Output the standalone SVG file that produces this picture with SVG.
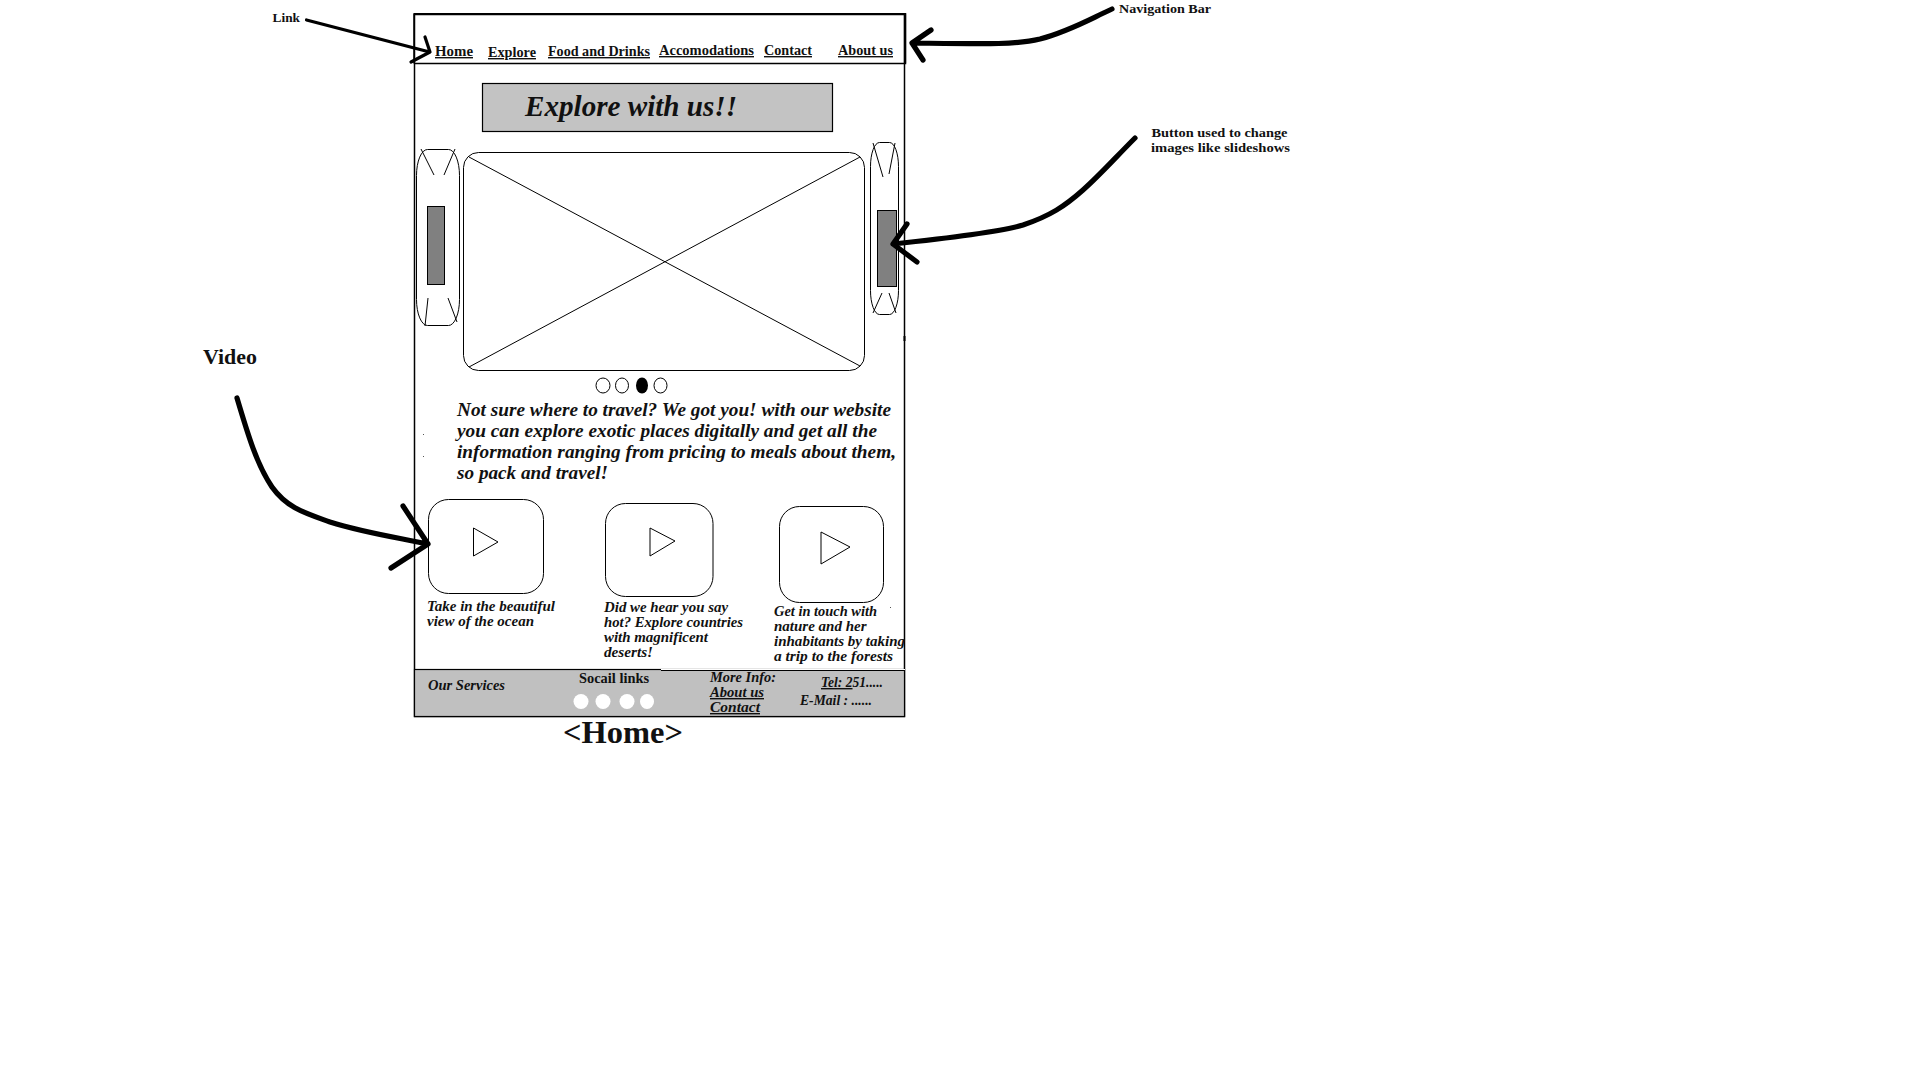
<svg xmlns="http://www.w3.org/2000/svg" width="1920" height="1080" viewBox="0 0 1920 1080">
<style>
text{font-family:"Liberation Serif","Times New Roman",serif;font-weight:bold;fill:#111}
.i{font-style:italic}
.u{text-decoration:underline}
.nav{font-size:14px}
.cap{font-size:14.5px;font-style:italic}
.para{font-size:19.5px;font-style:italic}
.ft{font-size:14px}
.note{font-size:13.5px}
.s{fill:#fff;stroke:#000;stroke-width:1}
.t{fill:none;stroke:#000;stroke-width:1}
.g{fill:#808080;stroke:#000;stroke-width:1}
.c{fill:none;stroke:#000;stroke-linecap:round;stroke-linejoin:round}
</style>
<rect width="1920" height="1080" fill="#fff"/>
<g id="page">
<rect x="414.5" y="14.5" width="490" height="702" fill="#fff" stroke="#000" stroke-width="1.5"/>
</g>
<g id="nav-bar">
<path d="M414 63.5H905.5V14H414V63.5" fill="none" stroke="#000" stroke-width="1.5"/>
<path d="M414 14H905V63" fill="none" stroke="#000" stroke-width="2.2"/>
<text class="nav u" x="435" y="56" textLength="38" lengthAdjust="spacingAndGlyphs">Home</text>
<text class="nav u" x="488" y="57" textLength="48" lengthAdjust="spacingAndGlyphs">Explore</text>
<text class="nav u" x="548" y="56" textLength="102" lengthAdjust="spacingAndGlyphs">Food and Drinks</text>
<text class="nav u" x="659" y="55" textLength="95" lengthAdjust="spacingAndGlyphs">Accomodations</text>
<text class="nav u" x="764" y="55" textLength="48" lengthAdjust="spacingAndGlyphs">Contact</text>
<text class="nav u" x="838" y="55" textLength="55" lengthAdjust="spacingAndGlyphs">About us</text>
</g>
<g id="banner">
<rect x="482.5" y="83.5" width="350" height="48" fill="#c3c3c3" stroke="#000" stroke-width="1.2"/>
<text class="i" x="525" y="116" font-size="30" textLength="212" lengthAdjust="spacingAndGlyphs">Explore with us!!</text>
</g>
<g id="carousel-left">
<rect class="s" x="416.5" y="149.5" width="43" height="176" rx="11" ry="26"/>
<path class="t" d="M421 149L434 175M455 149L444 175M428 298L425 326M448 298L457 322"/>
<rect class="g" x="427.5" y="206.5" width="17" height="78"/>
</g>
<g id="carousel-image">
<rect class="s" x="463.5" y="152.5" width="401" height="218" rx="15"/>
<path class="t" d="M469 157L860 366M860 157L469 367"/>
</g>
<g id="carousel-right">
<rect class="s" x="870.5" y="142.5" width="28" height="172" rx="9" ry="24"/>
<path class="t" d="M873 143L883 177M895 143L889 174M882 293L873 313M889 293L896 313"/>
<rect class="g" x="877.5" y="210.5" width="19" height="76"/>
</g>
<g id="slide-dots">
<ellipse class="s" cx="603" cy="385.5" rx="7" ry="7.5"/>
<ellipse class="s" cx="622" cy="385.5" rx="6.5" ry="7.5"/>
<ellipse cx="642" cy="385.5" rx="6" ry="8" fill="#000"/>
<ellipse class="s" cx="660.5" cy="385.5" rx="6.5" ry="7.5"/>
</g>
<g id="intro">
<text class="para" x="457" y="416" textLength="434" lengthAdjust="spacingAndGlyphs">Not sure where to travel? We got you! with our website</text>
<text class="para" x="457" y="437" textLength="420" lengthAdjust="spacingAndGlyphs">you can explore exotic places digitally and get all the</text>
<text class="para" x="457" y="458" textLength="439" lengthAdjust="spacingAndGlyphs">information ranging from pricing to meals about them,</text>
<text class="para" x="457" y="479" textLength="151" lengthAdjust="spacingAndGlyphs">so pack and travel!</text>
</g>
<g id="video-1">
<rect class="s" x="428.5" y="499.5" width="115" height="94" rx="20"/>
<path class="t" d="M473.5 528L498 542L473.5 556Z"/>
<text class="cap" x="427" y="610.5" textLength="128" lengthAdjust="spacingAndGlyphs">Take in the beautiful</text>
<text class="cap" x="427" y="625.5" textLength="107" lengthAdjust="spacingAndGlyphs">view of the ocean</text>
</g>
<g id="video-2">
<rect class="s" x="605.5" y="503.5" width="107.5" height="93" rx="20"/>
<path class="t" d="M650 528L675 541L650 556Z"/>
<text class="cap" x="604" y="612" textLength="124" lengthAdjust="spacingAndGlyphs">Did we hear you say</text>
<text class="cap" x="604" y="627" textLength="139" lengthAdjust="spacingAndGlyphs">hot? Explore countries</text>
<text class="cap" x="604" y="642" textLength="104" lengthAdjust="spacingAndGlyphs">with magnificent</text>
<text class="cap" x="604" y="657" textLength="49" lengthAdjust="spacingAndGlyphs">deserts!</text>
</g>
<g id="video-3">
<rect class="s" x="779.5" y="506.5" width="104" height="96" rx="20"/>
<path class="t" d="M821 532L850 547L821 564Z"/>
<text class="cap" x="774" y="616" textLength="103" lengthAdjust="spacingAndGlyphs">Get in touch with</text>
<text class="cap" x="774" y="631" textLength="92.5" lengthAdjust="spacingAndGlyphs">nature and her</text>
<text class="cap" x="774" y="646" textLength="131" lengthAdjust="spacingAndGlyphs">inhabitants by taking</text>
<text class="cap" x="774" y="661" textLength="119" lengthAdjust="spacingAndGlyphs">a trip to the forests</text>
</g>
<g id="footer">
<rect x="414.5" y="669.5" width="490" height="47" fill="#c0c0c0" stroke="#000" stroke-width="1.2"/>
<path d="M661 669.5H905" stroke="#fff" stroke-width="1"/>
<path d="M661 670.5H905" stroke="#000" stroke-width="1"/>
<text class="ft i" x="428" y="690" textLength="77" lengthAdjust="spacingAndGlyphs">Our Services</text>
<text class="ft" x="579" y="683" textLength="70" lengthAdjust="spacingAndGlyphs">Socail links</text>
<ellipse cx="581" cy="701.5" rx="7.5" ry="7.5" fill="#fff"/>
<ellipse cx="603" cy="701.5" rx="7.5" ry="7.5" fill="#fff"/>
<ellipse cx="627" cy="701.5" rx="7.5" ry="7.5" fill="#fff"/>
<ellipse cx="647" cy="701.5" rx="7" ry="7.5" fill="#fff"/>
<text class="ft i" x="710" y="682" textLength="66" lengthAdjust="spacingAndGlyphs">More Info:</text>
<text class="ft i u" x="710" y="697" textLength="54" lengthAdjust="spacingAndGlyphs">About us</text>
<text class="ft i u" x="710" y="712" textLength="50" lengthAdjust="spacingAndGlyphs">Contact</text>
<text class="ft i" x="821" y="687" textLength="62" lengthAdjust="spacingAndGlyphs"><tspan class="u">Tel: 2</tspan>51.....</text>
<text class="ft i" x="800" y="705" textLength="72" lengthAdjust="spacingAndGlyphs">E-Mail : ......</text>
</g>
<g id="page-title">
<text x="563" y="743" font-size="32" textLength="120" lengthAdjust="spacingAndGlyphs">&lt;Home&gt;</text>
</g>
<g id="labels">
<text class="note" x="272.5" y="22" textLength="27.5" lengthAdjust="spacingAndGlyphs">Link</text>
<text class="note" x="1119" y="13" textLength="92" lengthAdjust="spacingAndGlyphs">Navigation Bar</text>
<text class="note" x="1151.5" y="137" textLength="136" lengthAdjust="spacingAndGlyphs">Button used to change</text>
<text class="note" x="1151" y="152" textLength="139" lengthAdjust="spacingAndGlyphs">images like slideshows</text>
<text x="203" y="364" font-size="21" textLength="54" lengthAdjust="spacingAndGlyphs">Video</text>
</g>
<g id="connectors">
<path class="c" stroke-width="3.2" d="M306.5 20L429.6 52M425 37L430 52L411 62"/>
<path class="c" stroke-width="5.2" d="M1112 9C1090 19 1070 31 1040 39C1015 45 985 44 912 43M931 30L912 43L923 60"/>
<path class="c" stroke-width="5.2" d="M1135 138C1115 158 1100 175 1083 190C1065 206 1050 216 1023 225C1000 232 950 238 893 244M907 224L893 244L917 262"/>
<path class="c" stroke-width="5.2" d="M237 398C248 435 257 465 272 487C287 508 305 513 330 522C365 533 395 537 428 544M403 506L428 544L391 568"/>
</g>
<g id="specks" fill="#555">
<rect x="423" y="434" width="1" height="1"/>
<rect x="423" y="456" width="1" height="1"/>
<rect x="890" y="607" width="1" height="1"/>
<rect x="903.5" y="336" width="2" height="5" fill="#000"/>
</g>
</svg>
